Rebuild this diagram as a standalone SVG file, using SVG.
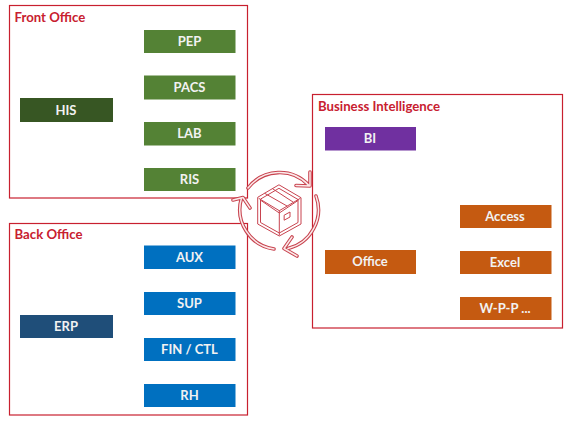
<svg xmlns="http://www.w3.org/2000/svg" width="567" height="422" viewBox="0 0 567 422">
<style>
.zone{fill:#fff;stroke:#c8202f;stroke-width:1.2}
.zt{font:bold 13.2px Lato,"Open Sans",sans-serif;fill:#c8202f}
.n{font:bold 13px Lato,"Open Sans",sans-serif;fill:#f2f2f2;text-anchor:middle}
.g{fill:#548235}.dg{fill:#375623}.b{fill:#0070c0}.db{fill:#1f4e79}.p{fill:#7030a0}.o{fill:#c55a11}
.ico{fill:none;stroke:#c8434f;stroke-linejoin:round;stroke-linecap:round}
.ol{stroke-width:3.6}.il{stroke:#fbeaea;stroke-width:1.5}.th{stroke-width:1}
</style>
<rect width="567" height="422" fill="#fff"/>
<g id="zones">
<rect id="front-office" class="zone" x="9.5" y="5.5" width="238" height="192.5"/>
<rect id="back-office" class="zone" x="9.5" y="223.5" width="238" height="191.5"/>
<rect id="business-intelligence" class="zone" x="312.5" y="94.5" width="250" height="233.5"/>
<text class="zt" x="14.500" y="21.500">Front Office</text>
<text class="zt" x="14.500" y="239">Back Office</text>
<text class="zt" x="318" y="110.500">Business Intelligence</text>
</g>
<g id="connectors">
<g class="ico ol">
<path d="M248 188A40 40 0 0 1 309 185.500M310 172L310 186L296 185.500"/>
<path d="M316 196A40 40 0 0 1 288 248.500M292 237L284 248.500L297 256"/>
<path d="M274 249A40 40 0 0 1 241.500 198M233 200L243 197.500L250 208"/>
</g>
<g class="ico il">
<path d="M248 188A40 40 0 0 1 309 185.500M310 172L310 186L296 185.500"/>
<path d="M316 196A40 40 0 0 1 288 248.500M292 237L284 248.500L297 256"/>
<path d="M274 249A40 40 0 0 1 241.500 198M233 200L243 197.500L250 208"/>
</g>
</g>
<g id="box-icon" class="ico th">
<path d="M279.300 185L301 197.700V224L279.300 236L257.700 224V197.700Z"/>
<path d="M279.300 188.500L298 199.500V222.500L279.300 233L260.500 222.500V199.500Z"/>
<path d="M259 198.500L279.300 210.700L300 198.500M279.300 210.700V235"/>
<path d="M261 200.500L279.300 213L298 200.500"/>
<path d="M265 193.500L287 206M273 189L293 202"/>
<path d="M284.500 215L290 212V217L284.500 220Z"/>
</g>
<g id="PEP"><rect class="g" x="144" y="30" width="91.500" height="23"/><text class="n" x="189.500" y="46">PEP</text></g>
<g id="PACS"><rect class="g" x="144" y="75.500" width="91.500" height="24"/><text class="n" x="189.500" y="92">PACS</text></g>
<g id="LAB"><rect class="g" x="144" y="122" width="91.500" height="23.500"/><text class="n" x="189.500" y="138">LAB</text></g>
<g id="RIS"><rect class="g" x="144" y="168" width="91.500" height="23"/><text class="n" x="189.500" y="184">RIS</text></g>
<g id="HIS"><rect class="dg" x="20" y="98" width="93" height="24"/><text class="n" x="66" y="115">HIS</text></g>
<g id="AUX"><rect class="b" x="144" y="245.500" width="91.500" height="23.500"/><text class="n" x="189.500" y="262">AUX</text></g>
<g id="SUP"><rect class="b" x="144" y="292" width="91.500" height="23"/><text class="n" x="189.500" y="308">SUP</text></g>
<g id="FIN-CTL"><rect class="b" x="144" y="338" width="91.500" height="23"/><text class="n" x="189.500" y="354">FIN / CTL</text></g>
<g id="RH"><rect class="b" x="144" y="384" width="91.500" height="23"/><text class="n" x="189.500" y="400">RH</text></g>
<g id="ERP"><rect class="db" x="20" y="315" width="93" height="23"/><text class="n" x="66" y="331">ERP</text></g>
<g id="BI"><rect class="p" x="325" y="127" width="91" height="23.500"/><text class="n" x="370" y="143">BI</text></g>
<g id="Office"><rect class="o" x="325" y="250" width="91" height="24"/><text class="n" x="370" y="266">Office</text></g>
<g id="Access"><rect class="o" x="460" y="205" width="91.500" height="23"/><text class="n" x="505" y="220.500">Access</text></g>
<g id="Excel"><rect class="o" x="460" y="251" width="91.500" height="23"/><text class="n" x="505" y="267">Excel</text></g>
<g id="W-P-P"><rect class="o" x="460" y="297" width="91.500" height="23"/><text class="n" x="505" y="313">W-P-P ...</text></g>
</svg>
